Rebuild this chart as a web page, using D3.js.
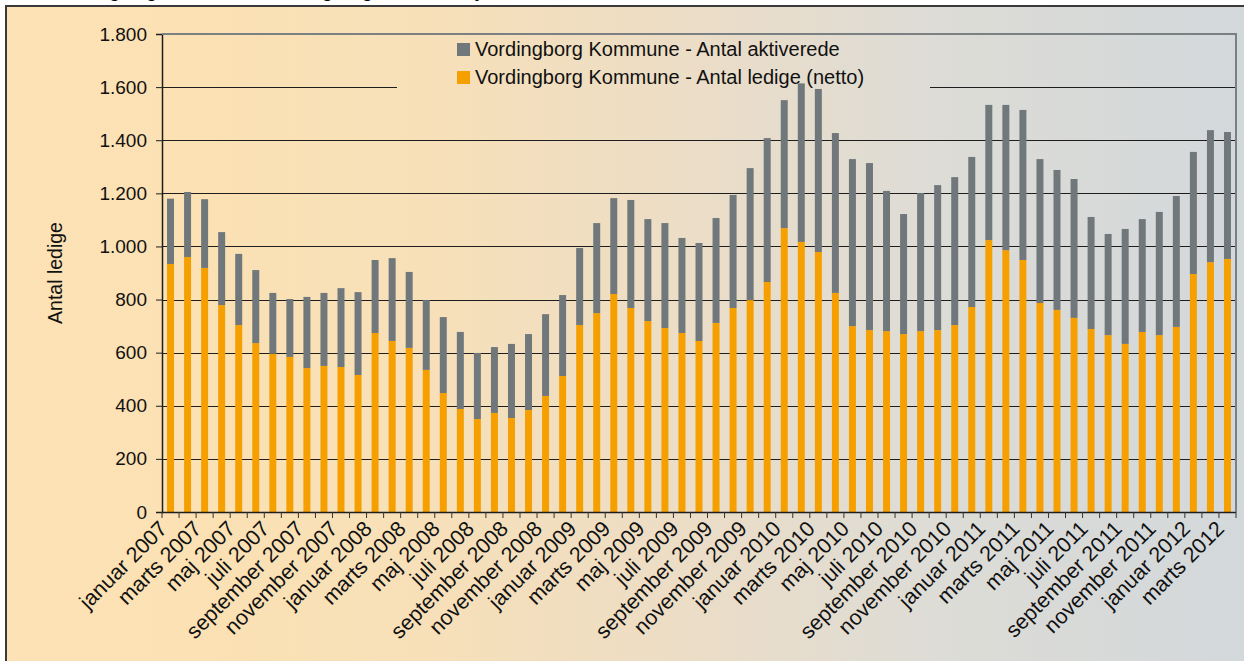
<!DOCTYPE html>
<html><head><meta charset="utf-8">
<script src="https://cdn.jsdelivr.net/npm/d3@7"></script>
<style>html,body{margin:0;padding:0;background:#fff;}svg{display:block;font-family:Arial,"Liberation Sans",sans-serif;}</style>
</head><body>
<svg id="c" width="1244" height="661"></svg>
<script>
const monthNames = ["januar","februar","marts","april","maj","juni","juli","august","september","oktober","november","december"];
const years = [2007,2008,2009,2010,2011,2012];
const categories = [];
years.forEach(y => monthNames.forEach((m,i) => { if (!(y===2012 && i>2)) categories.push(m+" "+y); }));

const ledige = [934,960,919,779,704,636,596,584,542,550,546,516,
  674,644,618,535,448,388,350,373,354,384,437,512,
  704,749,821,768,719,693,674,644,712,768,798,866,
  1069,1017,979,825,700,685,681,670,681,685,704,772,
  1024,986,949,787,761,731,689,666,633,678,666,697,
  896,941,953];
const aktiverede = [246,245,259,275,268,275,229,218,268,275,297,312,
  275,312,286,263,286,290,249,248,279,286,308,305,
  290,339,361,407,384,395,358,369,395,426,497,542,
  482,597,614,602,629,629,528,452,520,546,557,565,
  509,547,565,542,527,523,422,381,433,425,464,493,
  460,497,478];
const seriesNames = ["Vordingborg Kommune - Antal aktiverede","Vordingborg Kommune - Antal ledige (netto)"];
const yTicks = [0,200,400,600,800,1000,1200,1400,1600,1800];
const titleText = "Ledige og aktiverede i Vordingborg Kommune, januar 2007 - marts 2012";
const yTitle = "Antal ledige";

const colors = {akt:"#71787b", led:"#f5a000"};
const svg = d3.select("#c");
const L=162, R=1236, T=34, B=512;

const defs = svg.append("defs");
const g = defs.append("linearGradient").attr("id","bg").attr("gradientUnits","userSpaceOnUse")
  .attr("x1",0).attr("y1",0).attr("x2",1244).attr("y2",0);
[[0,"#fce2b4"],[0.15,"#fbe1b3"],[0.35,"#f7e0b9"],[0.55,"#ecddc6"],[0.75,"#dddcd6"],[1,"#d3d8db"]]
 .forEach(s=>g.append("stop").attr("offset",s[0]).attr("stop-color",s[1]));

svg.append("text").attr("x",72).attr("y",-3).attr("font-weight","bold").attr("font-size",18)
  .attr("fill","#000").text(titleText);
svg.append("rect").attr("x",6).attr("y",6).attr("width",1250).attr("height",670)
  .attr("fill","url(#bg)").attr("stroke","#3a3a3a").attr("stroke-width",2);

const x = d3.scaleBand().domain(categories).range([L,R]).paddingInner(0.59).paddingOuter(0.295);
const y = d3.scaleLinear().domain([0,1800]).range([B,T]);
const step = (R-L)/categories.length;

// gridlines
svg.append("g").selectAll("line").data(yTicks.filter(v=>v>0 && v<1800)).join("line")
  .attr("x1",L).attr("x2",R).attr("y1",d=>Math.round(y(d))+0.5).attr("y2",d=>Math.round(y(d))+0.5)
  .attr("stroke","#1e1e1e").attr("stroke-width",1);

// legend box (covers gridlines)
svg.append("rect").attr("x",397).attr("y",36).attr("width",533).attr("height",53).attr("fill","url(#bg)");

// bars
const stackData = categories.map((c,i)=>({cat:c, led:ledige[i], akt:aktiverede[i]}));
const stack = d3.stack().keys(["led","akt"])(stackData);
svg.append("g").selectAll("g").data(stack).join("g")
  .attr("fill",d=>d.key==="led"?colors.led:colors.akt)
  .selectAll("rect").data(d=>d).join("rect")
  .attr("x",d=>x(d.data.cat)).attr("width",x.bandwidth())
  .attr("y",d=>y(d[1])).attr("height",d=>y(d[0])-y(d[1]));

// y axis
const loc = d3.formatLocale({decimal:",",thousands:".",grouping:[3],currency:["",""]});
const yAxis = svg.append("g").attr("transform",`translate(${L},0)`)
  .call(d3.axisLeft(y).tickValues(yTicks).tickFormat(loc.format(",")).tickSize(6).tickPadding(9));
yAxis.select(".domain").attr("stroke","#1e1e1e").attr("stroke-width",1.5);
yAxis.selectAll(".tick line").attr("stroke","#1e1e1e");
yAxis.selectAll("text").attr("font-size",19).attr("fill","#111").attr("font-family","Arial, 'Liberation Sans', sans-serif");

// x axis
svg.append("line").attr("x1",L).attr("x2",R).attr("y1",B+0.5).attr("y2",B+0.5).attr("stroke","#1e1e1e").attr("stroke-width",1.5);
svg.append("g").selectAll("line").data(d3.range(categories.length+1)).join("line")
  .attr("x1",i=>L+i*step).attr("x2",i=>L+i*step).attr("y1",B).attr("y2",B+6)
  .attr("stroke","#333").attr("stroke-width",1);
svg.append("g").selectAll("text").data(categories.filter((c,i)=>i%2===0)).join("text")
  .attr("transform",d=>`translate(${x(d)+x.bandwidth()/2-2},${B+18}) rotate(-45)`)
  .attr("text-anchor","end").attr("font-size",21.5).attr("fill","#111").text(d=>d);

// y title
svg.append("text").attr("transform","translate(62,273) rotate(-90)").attr("text-anchor","middle")
  .attr("font-size",19.5).attr("fill","#111").text(yTitle);

// plot border top/right
svg.append("path").attr("d",`M${L},${T}H${R}V${B}`).attr("fill","none").attr("stroke","#7b8083").attr("stroke-width",2);

// legend
const leg = [{c:colors.akt,t:seriesNames[0],y:43},{c:colors.led,t:seriesNames[1],y:71}];
leg.forEach(l=>{
  svg.append("rect").attr("x",457).attr("y",l.y).attr("width",13).attr("height",13).attr("fill",l.c);
  svg.append("text").attr("x",475).attr("y",l.y+13).attr("font-size",20).attr("fill","#111").text(l.t);
});
</script>
</body></html>
